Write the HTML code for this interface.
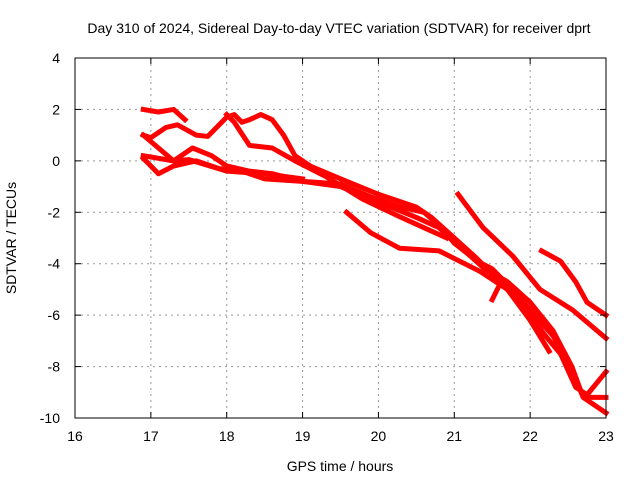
<!DOCTYPE html>
<html><head><meta charset="utf-8"><style>
body{margin:0;background:#fff}
svg{display:block;font-family:"Liberation Sans",sans-serif}
</style></head><body>
<svg id="chart" width="640" height="480" viewBox="0 0 640 480">
<rect width="640" height="480" fill="#fff"/>
<text x="339" y="33" font-size="14" text-anchor="middle">Day 310 of 2024, Sidereal Day-to-day VTEC variation (SDTVAR) for receiver dprt</text>
<text x="340" y="471" font-size="14" text-anchor="middle">GPS time / hours</text>
<text transform="translate(16,238) rotate(-90)" font-size="14" text-anchor="middle">SDTVAR / TECUs</text>
<g id="grid"></g>
<g id="series"></g>
<rect x="75" y="58" width="531" height="360" fill="none" stroke="#000" stroke-width="1"/>
<g id="ticks"></g>
</svg>
<script>
const xTicks=[16,17,18,19,20,21,22,23];
const yTicks=[4,2,0,-2,-4,-6,-8,-10];
const s1=[[16.9,2.0],[17.1,1.9],[17.3,2.0],[17.45,1.6]];
const s2=[[16.9,1.0],[17.0,0.9],[17.2,1.3],[17.35,1.4],[17.6,1.0],[17.75,0.95],[18.0,1.7],[18.1,1.8],[18.2,1.5],[18.3,1.6],[18.45,1.8],[18.6,1.6],[18.75,1.0],[18.9,0.2],[19.1,-0.2],[19.5,-0.7],[20.0,-1.3],[20.5,-1.8],[20.7,-2.2],[21.0,-3.0],[21.3,-3.8],[21.6,-4.7],[21.8,-5.3],[22.0,-6.0],[22.2,-6.8],[22.4,-7.5],[22.6,-8.8],[22.75,-9.1],[23.0,-8.2]];
const s3=[[16.9,1.0],[17.3,0.0],[17.55,0.5],[17.8,0.2],[18.0,-0.2],[18.3,-0.4],[18.6,-0.5],[19.0,-0.8],[19.5,-1.0],[20.0,-1.6],[20.5,-2.2],[20.8,-2.6],[21.1,-3.4],[21.4,-4.2],[21.7,-4.7],[22.0,-5.5],[22.3,-6.6],[22.55,-8.0],[22.7,-9.2],[23.0,-9.2]];
const s4=[[16.9,0.1],[17.1,-0.5],[17.3,-0.2],[17.6,0.0],[17.9,-0.3],[18.2,-0.4],[18.5,-0.7],[19.0,-0.8],[19.5,-0.9],[19.9,-1.4],[20.3,-1.8],[20.6,-2.0],[20.8,-2.5],[21.0,-3.2],[21.3,-3.9],[21.5,-4.2],[21.7,-4.8],[22.0,-5.8],[22.3,-6.8],[22.5,-7.8],[22.7,-9.2],[23.0,-9.8]];
const s5=[[16.9,0.2],[17.3,0.0],[17.5,0.05],[18.0,-0.4],[18.5,-0.5],[19.0,-0.7]];
const s6=[[18.0,1.8],[18.1,1.5],[18.3,0.6],[18.6,0.5],[18.9,0.0],[19.3,-0.6],[19.8,-1.5],[20.3,-2.2],[20.6,-2.6],[20.9,-3.0]];
const s7=[[19.58,-2.0],[19.9,-2.8],[20.28,-3.4],[20.8,-3.5],[21.34,-4.3],[21.7,-5.0],[22.0,-6.2],[22.25,-7.4]];
const s8=[[21.05,-1.3],[21.38,-2.6],[21.77,-3.7],[22.13,-5.0],[22.56,-5.8],[23.0,-6.9]];
const s9=[[22.15,-3.5],[22.4,-3.9],[22.6,-4.7],[22.75,-5.5],[23.0,-6.0]];
const s10=[[21.5,-5.4],[21.6,-4.8]];
const allSeries=[s1,s2,s3,s4,s5,s6,s7,s8,s9,s10];
const X=h=>75+(h-16)*531/7, Y=v=>58+(4-v)*360/14;
const NS='http://www.w3.org/2000/svg';
const grid=document.getElementById('grid'),ticks=document.getElementById('ticks'),ser=document.getElementById('series');
function mk(tag,at,parent){const e=document.createElementNS(NS,tag);for(const k in at)e.setAttribute(k,at[k]);parent.appendChild(e);return e;}
xTicks.forEach(t=>{const x=X(t);
 if(t>16&&t<23){const g=mk('line',{x1:x,x2:x,y1:58,y2:418,stroke:'#999','stroke-dasharray':'2,4'},grid);
 
 }
 mk('line',{x1:x,x2:x,y1:418,y2:412,stroke:'#000'},ticks);mk('line',{x1:x,x2:x,y1:58,y2:64,stroke:'#000'},ticks);
 const l=mk('text',{x:x,y:441,'font-size':14,'text-anchor':'middle'},ticks);l.textContent=t;
 
 });
yTicks.forEach(t=>{const y=Y(t);
 if(t<4&&t>-10){const g=mk('line',{x1:75,x2:606,y1:y,y2:y,stroke:'#999','stroke-dasharray':'2,4'},grid);
 
 }
 mk('line',{x1:75,x2:81,y1:y,y2:y,stroke:'#000'},ticks);mk('line',{x1:606,x2:600,y1:y,y2:y,stroke:'#000'},ticks);
 const l=mk('text',{x:60,y:y+5,'font-size':14,'text-anchor':'end'},ticks);l.textContent=t;
 
 });
allSeries.forEach((s,i)=>{
 const p=mk('polyline',{points:s.map(d=>X(d[0])+','+Y(d[1])).join(' '),fill:'none',stroke:'#f00','stroke-width':5,'stroke-linejoin':'round','stroke-linecap':'square'},ser);
 
 
});
</script>
</body></html>
